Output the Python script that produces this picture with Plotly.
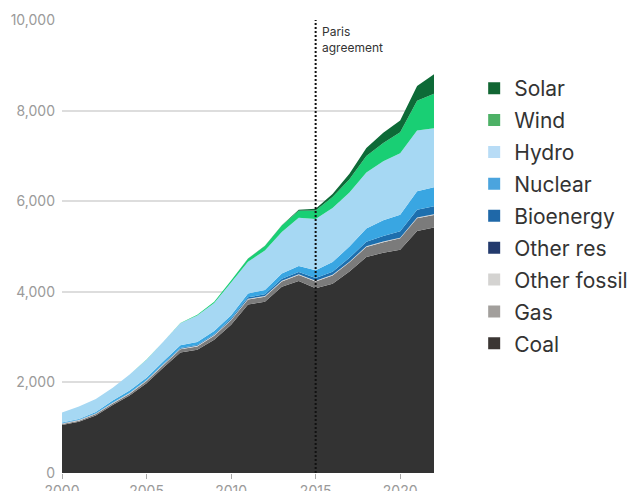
import plotly.graph_objects as go

years = list(range(2000, 2023))

coal = [1060, 1130, 1270, 1500, 1710, 1980, 2330, 2660, 2720, 2940, 3270, 3720,
        3780, 4110, 4240, 4080, 4180, 4450, 4770, 4860, 4930, 5340, 5420]
gas = [20, 25, 30, 35, 40, 50, 55, 70, 75, 90, 100, 110,
       110, 120, 130, 150, 180, 200, 220, 235, 250, 285, 275]
other_fossil = [15, 15, 15, 15, 15, 15, 15, 15, 15, 15, 15, 15,
                15, 15, 15, 15, 15, 15, 15, 15, 15, 15, 15]
other_res = [0, 0, 0, 0, 0, 0, 0, 0, 0, 0, 0, 0,
             0, 0, 0, 0, 0, 0, 0, 0, 0, 1, 1]
bioenergy = [2, 3, 4, 5, 6, 7, 10, 12, 15, 20, 25, 32,
             40, 45, 50, 60, 70, 85, 100, 120, 140, 170, 180]
nuclear = [17, 18, 25, 43, 50, 53, 55, 62, 68, 70, 74, 86,
           97, 112, 133, 171, 213, 248, 295, 348, 366, 408, 418]
hydro = [222, 277, 288, 284, 354, 397, 436, 485, 585, 616, 722, 699,
         872, 920, 1064, 1130, 1193, 1194, 1232, 1302, 1355, 1340, 1303]
wind = [1, 1, 1, 1, 1, 2, 4, 6, 15, 27, 45, 70,
        96, 141, 156, 186, 241, 295, 366, 406, 467, 656, 762]
solar = [0, 0, 0, 0, 0, 0, 0, 0, 0, 0, 1, 3,
         4, 8, 24, 39, 66, 118, 177, 225, 261, 327, 427]

series_names = ["Coal", "Gas", "Other fossil", "Other res", "Bioenergy",
                "Nuclear", "Hydro", "Wind", "Solar"]
series_values = [coal, gas, other_fossil, other_res, bioenergy,
                 nuclear, hydro, wind, solar]
fill_colors = ["#333333", "#7b7b7b", "#d3d3d3", "#1f3a6e", "#1d6fae",
               "#39a6e2", "#a6d8f3", "#19cf74", "#0d6a37"]
legend_colors = ["#3b3634", "#a29f9c", "#d4d3d1", "#233a6d", "#1f68a8",
                 "#4ba4de", "#b8dcf6", "#4db166", "#116633"]

y_ticks = [0, 2000, 4000, 6000, 8000, 10000]
y_tick_labels = ["0", "2,000", "4,000", "6,000", "8,000", "10,000"]
x_ticks = [2000, 2005, 2010, 2015, 2020]

fig = go.Figure()

for name, vals, col in zip(series_names, series_values, fill_colors):
    fig.add_trace(go.Scatter(
        x=years, y=vals, name=name, stackgroup="one", mode="lines",
        line=dict(width=0, color=col), fillcolor=col, showlegend=False,
        hoverinfo="x+y+name"))

# legend-only entries (top to bottom: Solar ... Coal)
for name, col in reversed(list(zip(series_names, legend_colors))):
    fig.add_trace(go.Scatter(
        x=[None], y=[None], name=name, mode="markers", legendgroup=name,
        marker=dict(symbol="square", size=17, color=col), showlegend=True))

fig.add_shape(type="line", x0=2015, x1=2015, y0=0, y1=10000,
              xref="x", yref="y", line=dict(color="#111111", width=2, dash="2px,2px"))
fig.add_annotation(x=2015, y=10000, xref="x", yref="y", xanchor="left", yanchor="top",
                   xshift=4, yshift=-2, align="left", showarrow=False,
                   text="Paris<br>agreement",
                   font=dict(family="Inter, Roboto, sans-serif", size=12, color="#333333"))

# page body has an 8px margin; figure offset accounted for in the margins
fig.update_layout(
    width=636, height=483,
    margin=dict(l=54, r=210, t=12, b=18, autoexpand=False),
    plot_bgcolor="white", paper_bgcolor="white",
    font=dict(family="Inter, Roboto, sans-serif"),
    showlegend=True,
    legend=dict(x=1.108, y=0.894, xanchor="left", yanchor="top",
                traceorder="grouped",
                font=dict(size=21, color="#333333", family="Inter, Roboto, sans-serif"),
                itemsizing="constant", tracegroupgap=1.6, bgcolor="rgba(0,0,0,0)"),
    xaxis=dict(range=[2000, 2022], tickvals=x_ticks, showgrid=False,
               ticks="outside", ticklen=5, tickcolor="#aaaaaa",
               tickfont=dict(size=14, color="#9a9a9a"), zeroline=False,
               showline=False, automargin=False),
    yaxis=dict(range=[0, 10000], tickvals=y_ticks, ticktext=y_tick_labels,
               showgrid=True, gridcolor="#dddddd", gridwidth=1.5,
               tickfont=dict(size=14, color="#9a9a9a"), zeroline=False,
               ticks="", ticklabelstandoff=6, automargin=False),
)

fig.write_html("out.html")
